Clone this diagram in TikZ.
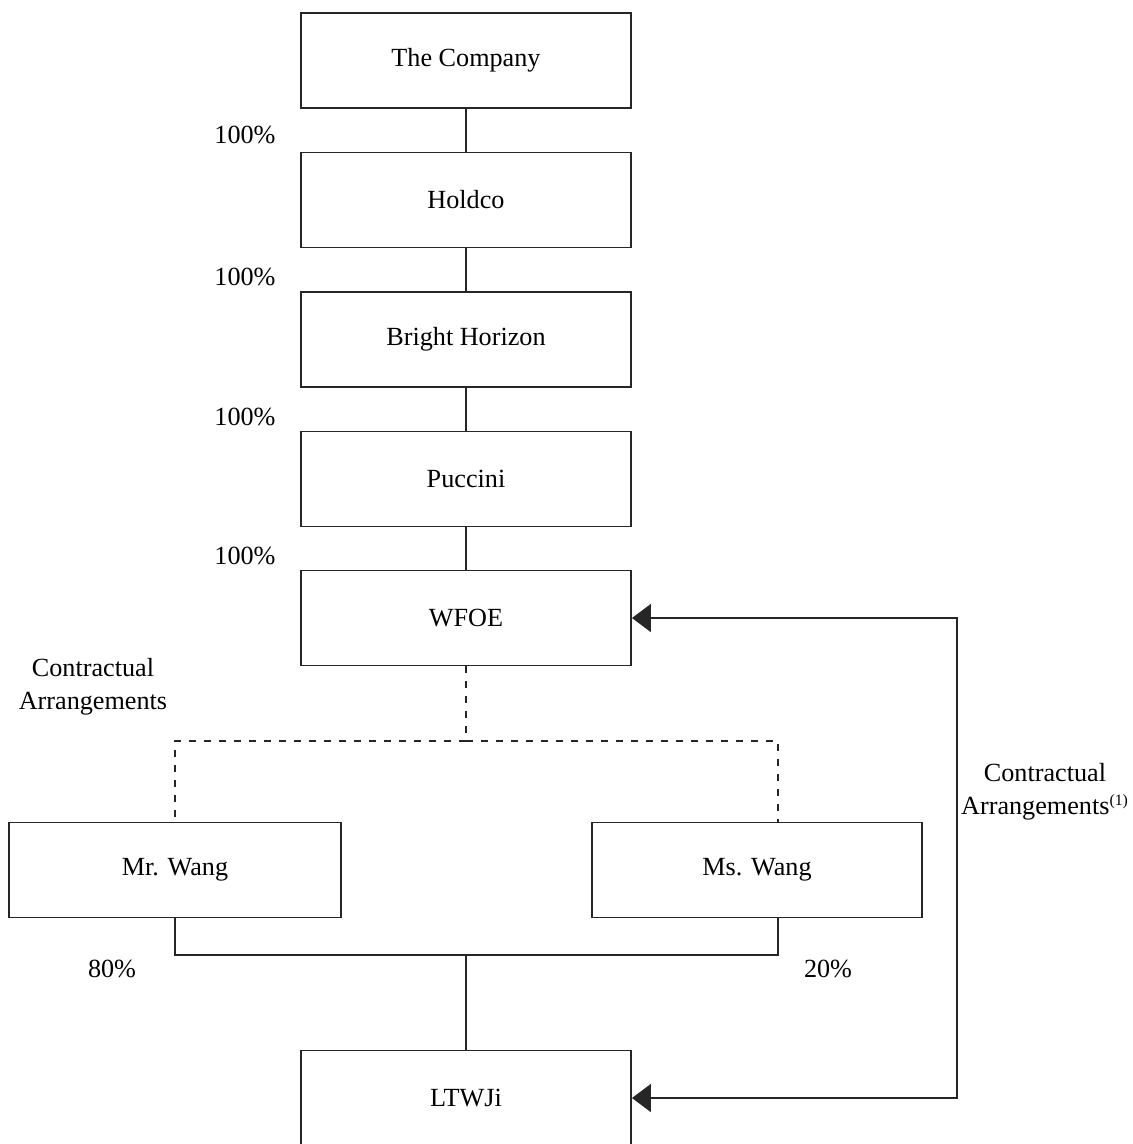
\documentclass[tikz,border=0pt]{standalone}
\usepackage{fontspec}
\setmainfont{Liberation Serif}
\usetikzlibrary{arrows.meta,positioning,calc}
\tikzset{
  entbox/.style ={rectangle, draw=black!85, line width=1.1pt, fill=white,
                  minimum width=66mm, minimum height=19mm, align=center,
                  font=\fontsize{14.9}{18.6}\selectfont},
  own/.style    ={draw=black!85, line width=1.1pt},
  vie/.style    ={draw=black!85, line width=1.1pt, dash pattern=on 1.4mm off 1.6mm},
  ctrl/.style   ={{Triangle[length=3.8mm,width=5.6mm]}-{Triangle[length=3.8mm,width=5.6mm]},
                  draw=black!85, line width=1.1pt},
  pct/.style    ={font=\fontsize{14.9}{18.6}\selectfont, align=center}
}
\begin{document}
\begin{tikzpicture}[x=0.2mm, y=-0.2mm]
  \useasboundingbox (0,0) rectangle (1133,1144);
  \clip (0,0) rectangle (1133,1144);

  % ownership chain
  \node[entbox] (co)   at (466,60.5)  {The Company};
  \node[entbox] (hold) at (466,200)   {Holdco};
  \node[entbox] (bh)   at (466,339.5) {Bright Horizon};
  \node[entbox] (pucc) at (466,479)   {Puccini};
  \node[entbox] (wfoe) at (466,618)   {WFOE};

  \node[entbox, minimum width=66.4mm] (mrw) at (175,870) {Mr. Wang};
  \node[entbox] (msw) at (757,870) {Ms. Wang};
  \node[entbox] (ltw) at (466,1098) {LTWJi};

  \foreach \a/\b in {co/hold, hold/bh, bh/pucc, pucc/wfoe}
    \draw[own] (\a) -- (\b);

  \node[pct] (p1) at (245,135) {100\%};
  \node[pct] (p2) at (245,277) {100\%};
  \node[pct] (p3) at (245,417) {100\%};
  \node[pct] (p4) at (245,556) {100\%};

  % contractual arrangements with the shareholders
  \coordinate (dj) at (466,741);
  \coordinate (msn) at ($(msw.north west)!0.564!(msw.north east)$);
  \coordinate (mss) at ($(msw.south west)!0.564!(msw.south east)$);
  \draw[vie] (wfoe) -- (dj);
  \draw[vie] (dj) -| (mrw.north);
  \draw[vie] (dj) -| (msn);
  \node[pct] (ca1) at (93,687) {Contractual\\Arrangements};

  % shareholding in LTWJi
  \coordinate (sj) at (466,955);
  \draw[own] (mrw.south) |- (sj) -| (mss);
  \draw[own] (sj) -- (ltw);
  \node[pct] (p80) at (112,969) {80\%};
  \node[pct] (p20) at (828,969) {20\%};

  % direct control
  \coordinate (rt) at (957,860);
  \draw[ctrl] (wfoe.east) -| (rt) |- (ltw.east);
  \node[pct] (ca2) at (1045,792) {Contractual\\Arrangements\textsuperscript{\fontsize{9}{9}\selectfont(1)}};
\end{tikzpicture}
\end{document}
